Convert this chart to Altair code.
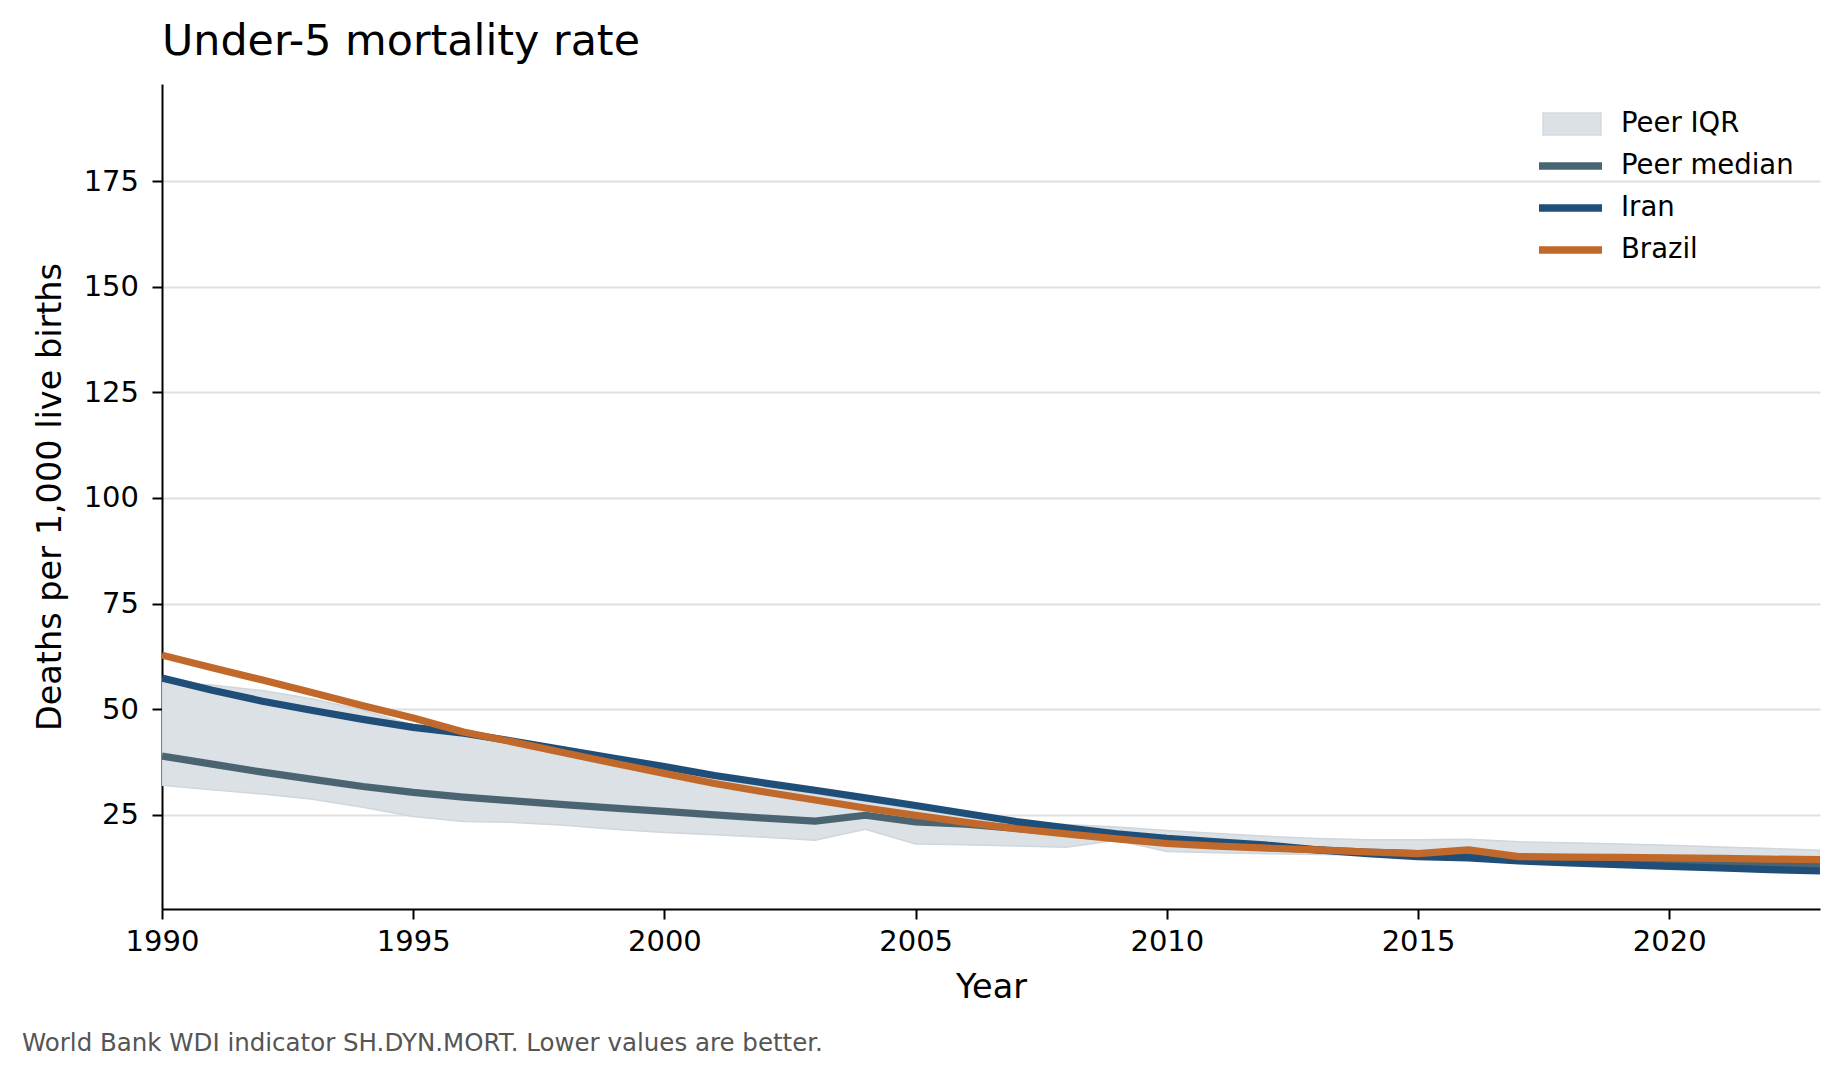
import altair as alt
import pandas as pd

# ---------------- data ----------------
years = list(range(1990, 2024))

iqr_low = [32.0, 30.9, 29.9, 28.7, 26.8, 24.6, 23.4, 23.2, 22.5, 21.6,
           20.8, 20.3, 19.7, 19.0, 21.6, 18.1, 17.9, 17.6, 17.3, 19.0,
           16.3, 16.0, 15.8, 15.6, 15.4, 15.1, 14.9, 14.3, 14.0, 13.7,
           13.4, 13.1, 12.9, 12.6]
iqr_high = [56.3, 55.7, 54.4, 52.4, 49.8, 46.2, 44.0, 42.3, 40.2, 38.0,
            35.8, 33.6, 31.7, 29.9, 28.2, 26.4, 24.6, 23.3, 22.7, 22.1,
            21.3, 20.6, 19.9, 19.4, 19.1, 19.1, 19.2, 18.6, 18.4, 18.1,
            17.8, 17.4, 17.0, 16.6]
peer_median = [38.9, 37.0, 35.1, 33.4, 31.7, 30.3, 29.2, 28.3, 27.4, 26.6,
               25.8, 25.0, 24.2, 23.5, 24.9, 23.3, 22.8, 21.8, 20.7, 19.6,
               18.6, 17.9, 17.3, 16.7, 16.2, 15.8, 15.6, 14.8, 14.5, 14.2,
               14.0, 13.7, 13.5, 13.2]
iran = [57.4, 54.5, 51.9, 49.7, 47.6, 45.7, 44.3, 42.4, 40.4, 38.4,
        36.4, 34.3, 32.5, 30.8, 29.0, 27.2, 25.3, 23.4, 21.9, 20.5,
        19.4, 18.6, 17.8, 16.7, 15.8, 15.1, 14.8, 14.1, 13.6, 13.2,
        12.8, 12.4, 12.0, 11.7]
brazil = [62.8, 59.8, 56.9, 53.9, 50.8, 47.9, 44.6, 42.2, 39.7, 37.2,
          34.8, 32.4, 30.4, 28.5, 26.6, 24.9, 23.2, 21.7, 20.5, 19.3,
          18.2, 17.6, 17.1, 16.7, 16.2, 15.8, 16.7, 15.1, 15.0, 14.9,
          14.8, 14.7, 14.5, 14.4]

series_names = ["Peer median", "Iran", "Brazil"]
series_colors = ["#4a6571", "#1f4e79", "#c0692b"]
band_name = "Peer IQR"
band_color = "#dce1e5"

title_text = "Under-5 mortality rate"
x_title = "Year"
y_title = "Deaths per 1,000 live births"
footnote = ["World Bank WDI indicator SH.DYN.MORT. Lower values are better."]
x_ticks = [1990, 1995, 2000, 2005, 2010, 2015, 2020]
y_ticks = [25, 50, 75, 100, 125, 150, 175]
x_domain = [1990, 2023]
y_domain = [2.7, 198.0]

# ---------------- tables ----------------
band_df = pd.DataFrame({"year": years, "low": iqr_low, "high": iqr_high,
                        "band": [band_name] * len(years)})
lines_df = pd.concat(
    [pd.DataFrame({"year": years, "value": vals, "series": [name] * len(years)})
     for name, vals in zip(series_names, [peer_median, iran, brazil])],
    ignore_index=True)
foot_df = pd.DataFrame({"t": footnote})

FONT = "DejaVu Sans"
W, H = 1658, 825

x_scale = alt.Scale(domain=x_domain, nice=False, zero=False)
y_scale = alt.Scale(domain=y_domain, nice=False, zero=False)

x_axis = alt.Axis(values=x_ticks, format="d", title=x_title, grid=False,
                  labelFlush=False, labelOverlap=False, labelPadding=8,
                  titleX=W / 2, titleY=88.5, titleAlign="center",
                  titleBaseline="alphabetic")
y_axis = alt.Axis(values=y_ticks, title=y_title, grid=True,
                  labelFlush=False, labelOverlap=False, labelPadding=13.5,
                  titleX=-102, titleY=H / 2, titleAngle=270,
                  titleAlign="center", titleBaseline="alphabetic")

stroke_enc = alt.Stroke(
    "series:N",
    scale=alt.Scale(domain=series_names, range=series_colors),
    legend=alt.Legend(title=None, orient="none", legendX=1373, legendY=64,
                      symbolType="stroke", symbolSize=3969,
                      symbolStrokeWidth=7.5, labelFontSize=27.5,
                      labelOffset=15, clipHeight=36, rowPadding=6,
                      labelLimit=500, padding=0, labelFont=FONT,
                      labelColor="black"),
)

band = alt.Chart(band_df).mark_area(
    opacity=1, stroke="#cfd6dc", strokeWidth=1.5, clip=True
).encode(
    x=alt.X("year:Q", scale=x_scale, axis=x_axis),
    y=alt.Y("low:Q", scale=y_scale, axis=y_axis),
    y2="high:Q",
    fill=alt.Fill(
        "band:N",
        scale=alt.Scale(domain=[band_name], range=[band_color]),
        legend=alt.Legend(title=None, orient="none", legendX=1380, legendY=22,
                          symbolType="M-1,-0.379H1V0.379H-1Z", symbolSize=3364,
                          symbolStrokeColor="#d3dadf", symbolStrokeWidth=1.5,
                          labelFontSize=27.5, labelOffset=19, clipHeight=36,
                          labelLimit=500, padding=0, labelFont=FONT,
                          labelColor="black"),
    ),
)


def line_layer(name):
    return alt.Chart(lines_df).transform_filter(
        alt.datum.series == name
    ).mark_line(strokeWidth=7.2, strokeJoin="round", clip=True).encode(
        x=alt.X("year:Q", scale=x_scale, axis=x_axis),
        y=alt.Y("value:Q", scale=y_scale, axis=y_axis),
        stroke=stroke_enc,
    )


foot = alt.Chart(foot_df).mark_text(
    align="left", baseline="alphabetic", fontSize=24.5, color="#555555", font=FONT
).encode(text="t:N", x=alt.value(-140), y=alt.value(967))

chart = alt.layer(
    band, *[line_layer(n) for n in series_names], foot
).properties(
    width=W, height=H,
    title=alt.TitleParams(text=title_text, anchor="start", frame="group",
                          fontSize=42.8, fontWeight="normal", font=FONT,
                          color="black", offset=29, dy=43,
                          baseline="alphabetic"),
    padding={"left": 154, "top": 76, "right": 12, "bottom": 150},
    autosize=alt.AutoSizeParams(type="none"),
).configure(
    font=FONT
).configure_view(
    stroke=None
).configure_axis(
    domainColor="black", domainWidth=2, tickColor="black", tickWidth=2,
    tickSize=10, labelFontSize=29, labelColor="black", labelFont=FONT,
    titleFontSize=33.5, titleFontWeight="normal", titleColor="black",
    titleFont=FONT, gridColor="#e0e0e0", gridWidth=2,
)

chart.save("out.html", embed_options={"renderer": "svg", "actions": False})
